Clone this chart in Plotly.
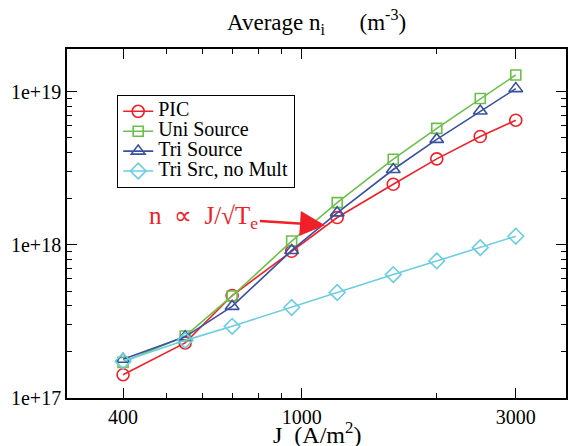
import plotly.graph_objects as go
import numpy as np

J = [400, 550, 700, 950, 1200, 1600, 2000, 2500, 3000]
pic = [1.42e17, 2.29e17, 4.67e17, 9.1e17, 1.51e18, 2.49e18, 3.65e18, 5.11e18, 6.53e18]
uni = [1.71e17, 2.54e17, 4.64e17, 1.06e18, 1.89e18, 3.63e18, 5.77e18, 9.05e18, 1.29e19]
tri = [1.79e17, 2.51e17, 3.97e17, 9.2e17, 1.62e18, 3.11e18, 4.89e18, 7.5e18, 1.05e19]
nomult = [1.74e17, 2.38e17, 2.94e17, 3.9e17, 4.89e17, 6.4e17, 7.86e17, 9.6e17, 1.14e18]

x_major = [400, 1000, 3000]
x_major_text = ["400", "1000", "3000"]
x_minor = [500, 600, 700, 800, 900, 2000]
y_major = [1e17, 1e18, 1e19]
y_major_text = ["1e+17", "1e+18", "1e+19"]
y_minor = [m * 10 ** e for e in (17, 18) for m in range(2, 10)]

FONT = "'Liberation Serif', 'Times New Roman', Times, serif"
series = [
    ("PIC", pic, "#f02028", "circle-open", 12),
    ("Uni Source", uni, "#6cc04a", "square-open", 10),
    ("Tri Source", tri, "#3a50a0", "triangle-up-open", 12),
    ("Tri Src, no Mult", nomult, "#6ccde0", "diamond-open", 12),
]

fig = go.Figure()
for name, vals, col, sym, sz in series:
    fig.add_trace(go.Scatter(
        x=J, y=vals, name=f'<span style="font-size:20px">{name}</span>', mode="lines+markers",
        line=dict(color=col, width=1.6),
        marker=dict(symbol=sym, size=sz, color=col, line=dict(color=col, width=1.6)),
    ))

axis_common = dict(
    showline=True, linecolor="black", linewidth=1.7, mirror="allticks",
    ticks="inside", ticklen=10, tickwidth=1.2, tickcolor="black",
    showgrid=False, zeroline=False,
    tickfont=dict(family=FONT, size=20, color="black"),
)

fig.update_xaxes(
    type="log", range=[np.log10(300), 3.589],
    tickmode="array", tickvals=x_major, ticktext=x_major_text,
    minor=dict(tickmode="array", tickvals=x_minor, ticks="inside", ticklen=5,
               tickwidth=1.2, tickcolor="black", showgrid=False),
    **axis_common,
)
fig.update_yaxes(
    type="log", range=[17, 19.28],
    tickmode="array", tickvals=y_major, ticktext=y_major_text,
    minor=dict(tickmode="array", tickvals=y_minor, ticks="inside", ticklen=5,
               tickwidth=1.2, tickcolor="black", showgrid=False),
    **axis_common,
)

# x-axis title (placed as paper annotation so it can sit below the tick labels)
fig.add_annotation(
    x=0.5, y=-(433 - 398) / 349, xref="paper", yref="paper",
    xanchor="center", yanchor="middle", showarrow=False,
    text="J &nbsp;(A/m<sup>2</sup>)", font=dict(family=FONT, size=24, color="black"),
)

fig.add_annotation(
    x=np.log10(1127), y=np.log10(1.346e18), xref="x", yref="y",
    text="n&nbsp; ∝&nbsp; J/√T<sub>e</sub>", showarrow=True,
    ax=-121, ay=-8, arrowcolor="#f02028", arrowhead=2, arrowsize=2.0, arrowwidth=2.5,
    font=dict(family=FONT, size=25, color="#f02028"),
)

fig.update_layout(
    width=573, height=446,
    font=dict(family=FONT, color="black"),
    margin=dict(l=67, r=7, t=49, b=48, autoexpand=False),
    paper_bgcolor="white", plot_bgcolor="white",
    title=dict(text="Average n<sub>i</sub> &nbsp;&nbsp;&nbsp;&nbsp;&nbsp;(m<sup>-3</sup>)", x=0.5525, xanchor="center",
               y=1 - 22 / 446, yanchor="middle", font=dict(family=FONT, size=23, color="black")),
    legend=dict(x=0.1, y=0.868, xanchor="left", yanchor="top",
                bgcolor="white", bordercolor="black", borderwidth=1.3,
                font=dict(family=FONT, size=13, color="black"), itemwidth=30,
                tracegroupgap=0),
    showlegend=True,
)

fig.write_html("out.html")
